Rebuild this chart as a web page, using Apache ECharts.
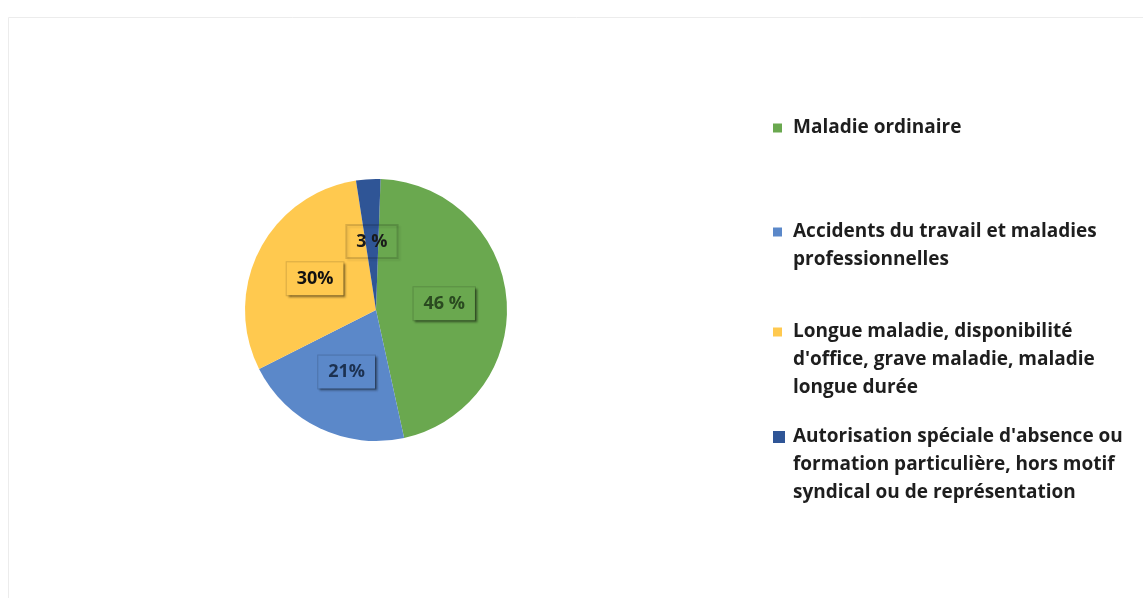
<!DOCTYPE html>
<html>
<head>
<meta charset="utf-8">
<script src="https://cdn.jsdelivr.net/npm/echarts@6/dist/echarts.min.js"></script>
<style>
html,body{margin:0;padding:0;background:#fff;}
#chart{width:1143px;height:598px;}
</style>
</head>
<body>
<div id="chart"></div>
<script>
const categories = [
  "Maladie ordinaire",
  "Accidents du travail et maladies\nprofessionnelles",
  "Longue maladie, disponibilité\nd'office, grave maladie, maladie\nlongue durée",
  "Autorisation spéciale d'absence ou\nformation particulière, hors motif\nsyndical ou de représentation"
];
const values = [46, 21, 30, 3];
const valueLabels = ["46 %", "21%", "30%", "3 %"];
const colors = ["#6aa84f", "#5b88c9", "#ffc94f", "#2f5596"];
const labelTextColors = ["#2a4a20", "#1c3150", "#111111", "#1a1a1a"];

const LINE_H = 28;
const FIRST_LINE_CENTERS = [128, 232, 332, 437];
const ICON_BOX_W = 15;

const legends = categories.map(function (name, i) {
  const n = name.split("\n").length;
  const h = n * LINE_H;
  const s = i === 3 ? 12 : 9;
  const sy = LINE_H / 2 - s / 2;
  const iconPath = "path://M0,0M" + ICON_BOX_W + "," + h +
    "M0," + sy + "L" + s + "," + sy + "L" + s + "," + (sy + s) + "L0," + (sy + s) + "Z";
  return {
    left: 773,
    top: FIRST_LINE_CENTERS[i] - LINE_H / 2,
    orient: "vertical",
    data: [name],
    icon: iconPath,
    itemWidth: ICON_BOX_W,
    itemHeight: h,
    itemGap: 0,
    padding: 0,
    textStyle: {
      fontFamily: "'Open Sans', sans-serif",
      fontSize: 19,
      fontWeight: "bold",
      color: "#1e1e1e",
      lineHeight: LINE_H
    },
    selectedMode: false
  };
});

const data = categories.map(function (name, i) {
  const transparent = i === 3;
  return {
    name: name,
    value: values[i],
    itemStyle: { color: colors[i] },
    label: {
      formatter: valueLabels[i],
      color: labelTextColors[i],
      backgroundColor: transparent ? "transparent" : colors[i],
      borderColor: "rgba(0,0,0,0.15)",
      borderWidth: 1,
      shadowColor: "rgba(0,0,0,0.45)",
      shadowOffsetX: 2,
      shadowOffsetY: 2,
      shadowBlur: 2
    }
  };
});

const chart = echarts.init(document.getElementById("chart"), null, { renderer: "canvas" });
chart.setOption({
  backgroundColor: "#ffffff",
  animation: false,
  color: colors,
  legend: legends,
  graphic: [{
    type: "rect",
    shape: { x: 8.5, y: 17.5, width: 1160, height: 620 },
    style: { fill: "none", stroke: "#ececec", lineWidth: 1 },
    silent: true
  }],
  series: [{
    type: "pie",
    center: [376, 310],
    radius: 131,
    startAngle: 88,
    clockwise: true,
    avoidLabelOverlap: false,
    data: data,
    itemStyle: { borderWidth: 0 },
    label: {
      show: true,
      position: "inside",
      fontFamily: "'Open Sans', sans-serif",
      fontSize: 18,
      fontWeight: "bold",
      padding: [8, 10, 7, 10]
    },
    labelLine: { show: false },
    emphasis: { disabled: true }
  }]
});
</script>
</body>
</html>
